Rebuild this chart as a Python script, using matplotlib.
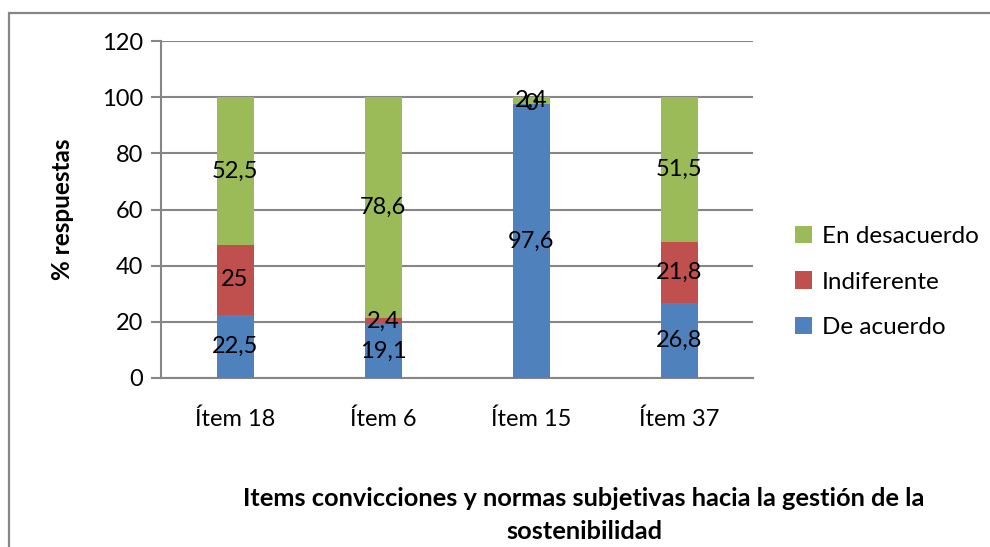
import matplotlib.pyplot as plt
import numpy as np
from matplotlib.patches import Rectangle

plt.rcParams['font.family'] = ['Lato', 'DejaVu Sans']

# Datos del gráfico
items = ["Ítem 18", "Ítem 6", "Ítem 15", "Ítem 37"]
de_acuerdo = [22.5, 19.1, 97.6, 26.8]
indiferente = [25, 2.4, 0, 21.8]
en_desacuerdo = [52.5, 78.6, 2.4, 51.5]

series = [
    ("De acuerdo", de_acuerdo, "#4F81BD"),
    ("Indiferente", indiferente, "#C0504D"),
    ("En desacuerdo", en_desacuerdo, "#9BBB59"),
]

W, H = 990, 547
fig = plt.figure(figsize=(W / 100, H / 100), dpi=100)

# Marco exterior del gráfico
fig.patches.append(Rectangle((8.5 / W, -0.1), 1.2, (H - 12.5) / H + 0.1,
                             transform=fig.transFigure, fill=False,
                             edgecolor="#868686", linewidth=1.6))

ax = fig.add_axes([161 / W, (H - 378) / H, 592 / W, (378 - 41) / H])

x = np.arange(len(items))
base = np.zeros(len(items))
for nombre, valores, color in series:
    valores = np.array(valores, dtype=float)
    ax.bar(x, valores, bottom=base, width=0.25, color=color, label=nombre, zorder=3)
    for xi, b, v in zip(x, base, valores):
        ax.text(xi, b + v / 2, f"{v:g}".replace(".", ","), ha="center", va="center",
                fontsize=17, color="black", zorder=4)
    base += valores

ax.set_xlim(-0.5, len(items) - 0.5)
ax.set_ylim(0, 120)
ax.set_yticks(np.arange(0, 121, 20))
ax.set_xticks(x)
ax.set_xticklabels(items)
ax.tick_params(axis="y", labelsize=17, length=7, width=1.5, color="#868686", pad=6)
ax.tick_params(axis="x", labelsize=17, length=0, pad=22)
ax.grid(axis="y", color="#868686", linewidth=1.5, zorder=0)
for lado in ["top", "right"]:
    ax.spines[lado].set_visible(False)
for lado in ["left", "bottom"]:
    ax.spines[lado].set_color("#868686")
    ax.spines[lado].set_linewidth(1.5)

ax.set_ylabel("% respuestas", fontsize=17.5, fontweight="bold", labelpad=20)

handles, labels = ax.get_legend_handles_labels()
fig.legend(handles[::-1], labels[::-1], loc="center left",
           bbox_to_anchor=(773 / W, 1 - 282 / H), frameon=False,
           fontsize=17.5, handlelength=0.7, handleheight=0.7,
           handletextpad=0.4, labelspacing=1.0)

fig.text(584 / W, 1 - 515 / H,
         "Items convicciones y normas subjetivas hacia la gestión de la\nsostenibilidad",
         ha="center", va="center", fontsize=18.3, fontweight="bold", linespacing=1.55)

fig.savefig("out.png", dpi=100)
